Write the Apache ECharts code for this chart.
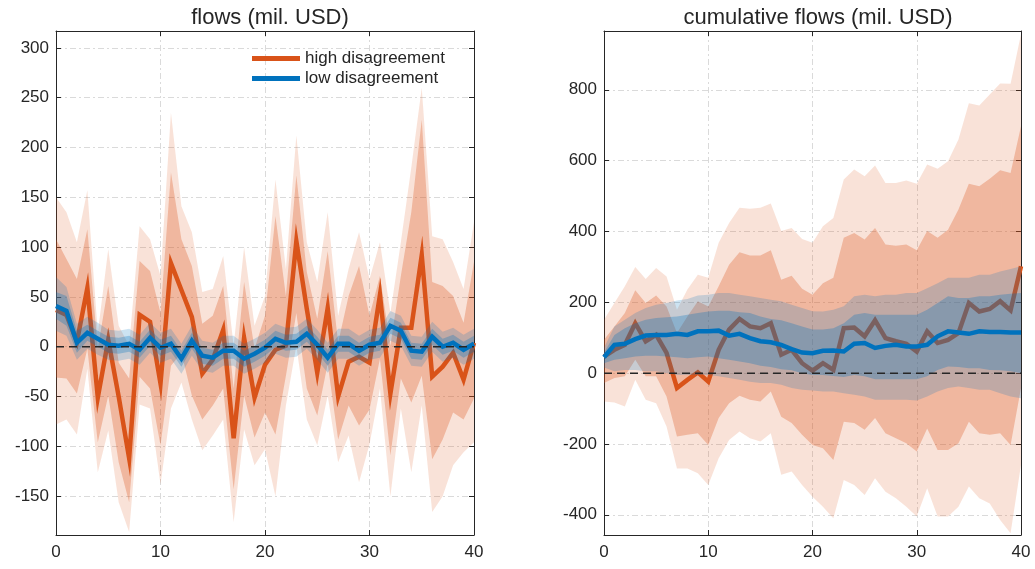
<!DOCTYPE html>
<html>
<head>
<meta charset="utf-8">
<script src="https://cdn.jsdelivr.net/npm/echarts@6.0.0/dist/echarts.min.js"></script>
<style>
html, body { margin: 0; padding: 0; background: #fff; }
#main { width: 1035px; height: 569px; }
</style>
</head>
<body>
<div id="main"></div>
<script>
// horizon (x axis)
var steps = [0,1,2,3,4,5,6,7,8,9,10,11,12,13,14,15,16,17,18,19,20,21,22,23,24,25,26,27,28,29,30,31,32,33,34,35,36,37,38,39,40];

// flows, high disagreement: median and bands
var flowHighMid   = [37,32,5,59,-51,7,-50,-112,32,25,-37,84,57,30,-27,-13,17,-92,9,-51,-18,-3,1,106,38,-26,39,-50,-15,-10,-16,52,-47,19,19,92,-30,-20,-6,-33,4];
var flowHighOutHi = [150,135,105,157,14,98,21,1,121,108,71,235,141,115,55,58,91,1,100,21,51,168,78,212,105,65,135,31,78,115,68,105,34,105,180,260,111,108,85,58,125];
var flowHighInHi  = [108,88,68,118,-2,61,-16,-32,86,76,34,175,108,81,23,31,61,-42,65,-2,31,131,51,172,75,28,96,4,51,81,31,71,1,71,135,228,65,61,51,24,85];
var flowHighInLo  = [-31,-32,-47,-2,-96,-49,-116,-156,-30,-42,-99,-19,-6,-49,-73,-59,-42,-143,-49,-91,-66,-88,-29,34,-42,-69,-17,-93,-59,-79,-63,-12,-109,-32,-56,-29,-113,-93,-66,-73,-52];
var flowHighOutLo = [-78,-73,-88,-22,-126,-84,-156,-186,-58,-62,-138,-62,-36,-73,-104,-89,-73,-176,-83,-119,-103,-150,-59,1,-73,-99,-49,-116,-89,-136,-98,-42,-150,-62,-126,-59,-166,-150,-119,-106,-96];

// flows, low disagreement
var flowLowMid   = [41,36,4,14,8,2,1,3,-3,9,-1,3,-12,6,-9,-11,-4,-4,-12,-7,-1,8,4,5,13,2,-11,3,3,-4,2,4,21,16,-4,-5,10,0,4,-3,3];
var flowLowOutHi = [70,60,23,30,24,17,16,18,12,24,14,18,3,21,6,4,11,11,3,8,14,23,19,20,28,17,4,18,18,11,17,19,36,31,11,10,25,15,19,12,18];
var flowLowInHi  = [55,51,16,22,16,10,9,11,5,17,7,11,-4,14,-1,-3,4,4,-4,1,7,16,12,13,21,10,-3,11,11,4,10,12,29,24,4,3,18,8,12,5,11];
var flowLowInLo  = [28,21,-6,6,0,-6,-7,-5,-11,1,-9,-5,-20,-2,-17,-19,-12,-12,-20,-15,-9,0,-4,-3,5,-6,-19,-5,-5,-12,-6,-4,13,8,-12,-13,2,-8,-4,-11,-5];
var flowLowOutLo = [16,11,-13,-2,-8,-13,-14,-12,-18,-6,-16,-12,-27,-9,-24,-26,-19,-19,-27,-22,-16,-7,-11,-10,-2,-13,-26,-12,-12,-19,-13,-11,6,1,-19,-20,-5,-15,-11,-18,-12];

// cumulative flows, high disagreement
var cumHighMid   = [47,66,80,141,90,108,57,-42,-19,2,-24,66,123,153,132,127,141,52,66,28,7,28,9,127,129,104,149,99,90,83,61,118,85,94,113,198,174,181,203,177,302];
var cumHighOutHi = [151,198,245,300,266,297,273,179,236,278,269,368,424,467,464,467,479,401,410,379,368,415,438,547,575,556,586,537,537,544,535,589,577,598,660,762,756,787,818,817,957];
var cumHighInHi  = [94,132,170,234,198,219,188,113,160,203,188,245,306,341,332,332,347,264,275,238,221,254,269,382,396,377,410,363,360,363,347,401,382,405,462,535,528,549,573,565,697];
var cumHighInLo  = [-28,-14,-9,38,-9,-9,-66,-179,-174,-170,-203,-127,-85,-64,-75,-80,-52,-123,-141,-174,-203,-212,-245,-137,-141,-160,-127,-170,-184,-198,-221,-156,-217,-217,-198,-137,-170,-174,-170,-203,-42];
var cumHighOutLo = [-80,-83,-94,-19,-75,-85,-151,-269,-269,-283,-316,-240,-189,-165,-184,-193,-170,-287,-278,-316,-349,-377,-410,-302,-316,-344,-297,-335,-353,-377,-405,-325,-405,-405,-377,-320,-353,-368,-415,-452,-259];

// cumulative flows, low disagreement
var cumLowMid   = [45,80,83,96,106,108,108,111,108,118,118,120,106,111,99,90,87,80,68,58,56,63,64,61,83,85,71,77,80,75,75,80,104,118,115,111,118,116,116,115,115];
var cumLowOutHi = [72,132,151,170,184,193,198,205,209,219,221,226,226,221,217,212,207,203,193,184,175,174,179,189,217,221,217,221,221,226,226,240,254,269,269,269,278,278,287,294,302];
var cumLowInHi  = [58,108,127,141,151,156,158,160,165,170,174,176,176,172,170,160,153,149,141,132,123,123,127,141,165,170,165,165,165,165,165,179,198,217,212,212,217,217,221,224,226];
var cumLowInLo  = [28,38,42,47,49,49,47,45,42,45,47,42,38,33,28,21,17,11,8,0,-5,-5,-8,-11,-5,-9,-17,-17,-17,-17,-17,-9,9,19,17,14,14,9,8,5,0];
var cumLowOutLo = [16,5,9,9,5,5,0,-5,-5,-5,-5,-9,-14,-19,-24,-28,-28,-33,-42,-47,-49,-52,-52,-57,-61,-66,-75,-75,-75,-75,-77,-66,-52,-42,-38,-42,-47,-47,-57,-66,-71];

var titles = ['flows (mil. USD)', 'cumulative flows (mil. USD)'];
var seriesNames = ['high disagreement', 'low disagreement'];

var FONT = 'Liberation Sans, Arial, Helvetica, sans-serif';
var INK = '#262626';
var ORANGE = '#D95319';
var BLUE = '#0072BD';

function pairs(v) {
    return steps.map(function (x, i) { return [x, v[i]]; });
}

// filled region between lo and hi, drawn as one polygon through the axis scales
function bandSeries(gi, lo, hi, color, z) {
    return {
        type: 'custom', xAxisIndex: gi * 2, yAxisIndex: gi * 2, z: z,
        data: [[0, 0]], silent: true, animation: false, clip: true,
        renderItem: function (params, api) {
            var pts = [];
            for (var i = 0; i < steps.length; i++) pts.push(api.coord([steps[i], hi[i]]));
            for (var j = steps.length - 1; j >= 0; j--) pts.push(api.coord([steps[j], lo[j]]));
            return { type: 'polygon', shape: { points: pts }, style: { fill: color, stroke: null } };
        }
    };
}

function midSeries(gi, name, v, color, z) {
    return {
        name: name, type: 'line', xAxisIndex: gi * 2, yAxisIndex: gi * 2, z: z,
        data: pairs(v), symbol: 'none', silent: true, animation: false,
        lineStyle: { color: color, width: 4.5, join: 'miter' },
        itemStyle: { color: color }
    };
}

function zeroSeries(gi) {
    return {
        type: 'line', xAxisIndex: gi * 2, yAxisIndex: gi * 2, z: 9,
        data: [[0, 0], [40, 0]], symbol: 'none', silent: true, animation: false,
        lineStyle: { color: INK, width: 1.5, type: [8, 5] }
    };
}

var gridLine = { show: true, lineStyle: { color: '#dadada', width: 1, type: [6, 3, 2, 3] } };

function xAxes(gi) {
    return [
        {
            gridIndex: gi, type: 'value', min: 0, max: 40, interval: 10, position: 'bottom',
            axisLine: { show: true, onZero: false, lineStyle: { color: INK, width: 1 } },
            axisTick: { show: true, inside: true, length: 5, lineStyle: { color: INK } },
            axisLabel: { color: INK, fontSize: 17, fontFamily: FONT, margin: 9 },
            splitLine: gridLine
        },
        {
            gridIndex: gi, type: 'value', min: 0, max: 40, interval: 10, position: 'top',
            axisLine: { show: true, onZero: false, lineStyle: { color: INK, width: 1 } },
            axisTick: { show: true, inside: true, length: 5, lineStyle: { color: INK } },
            axisLabel: { show: false }, splitLine: { show: false }
        }
    ];
}

function yAxes(gi, min, max, split, step) {
    return [
        {
            gridIndex: gi, type: 'value', min: min, max: max, splitNumber: split, position: 'left',
            axisLine: { show: true, onZero: false, lineStyle: { color: INK, width: 1 } },
            axisTick: { show: true, inside: true, length: 5, lineStyle: { color: INK } },
            axisLabel: {
                color: INK, fontSize: 17, fontFamily: FONT, margin: 7,
                showMinLabel: false, showMaxLabel: false,
                formatter: function (v) { return v % step === 0 ? String(v) : ''; }
            },
            splitLine: gridLine
        },
        {
            gridIndex: gi, type: 'value', min: min, max: max, splitNumber: split, position: 'right',
            axisLine: { show: true, onZero: false, lineStyle: { color: INK, width: 1 } },
            axisTick: { show: true, inside: true, length: 5, lineStyle: { color: INK } },
            axisLabel: { show: false }, splitLine: { show: false }
        }
    ];
}

// outer band first, inner band laid over it
var orangeOuter = 'rgba(217,83,25,0.17)';
var orangeInner = 'rgba(217,83,25,0.30)';
var blueOuter = 'rgba(0,114,189,0.20)';
var blueInner = 'rgba(0,114,189,0.29)';

// draw order: orange bands, orange median, blue bands, blue median, zero line
var series = [
    bandSeries(0, flowHighOutLo, flowHighOutHi, orangeOuter, 2),
    bandSeries(0, flowHighInLo, flowHighInHi, orangeInner, 3),
    midSeries(0, seriesNames[0], flowHighMid, ORANGE, 4),
    bandSeries(0, flowLowOutLo, flowLowOutHi, blueOuter, 5),
    bandSeries(0, flowLowInLo, flowLowInHi, blueInner, 6),
    midSeries(0, seriesNames[1], flowLowMid, BLUE, 7),
    zeroSeries(0),
    bandSeries(1, cumHighOutLo, cumHighOutHi, orangeOuter, 2),
    bandSeries(1, cumHighInLo, cumHighInHi, orangeInner, 3),
    midSeries(1, seriesNames[0], cumHighMid, ORANGE, 4),
    bandSeries(1, cumLowOutLo, cumLowOutHi, blueOuter, 5),
    bandSeries(1, cumLowInLo, cumLowInHi, blueInner, 6),
    midSeries(1, seriesNames[1], cumLowMid, BLUE, 7),
    zeroSeries(1)
];

var option = {
    backgroundColor: '#fff',
    animation: false,
    title: [
        { text: titles[0], left: 265, top: 2, textAlign: 'center',
          textStyle: { color: INK, fontSize: 22, fontWeight: 'normal', fontFamily: FONT } },
        { text: titles[1], left: 813, top: 2, textAlign: 'center',
          textStyle: { color: INK, fontSize: 22, fontWeight: 'normal', fontFamily: FONT } }
    ],
    legend: {
        data: seriesNames, orient: 'vertical', left: 252, top: 50, padding: 0, z: 10,
        icon: 'rect', itemWidth: 48, itemHeight: 5, itemGap: 3,
        selectedMode: false,
        textStyle: { color: INK, fontSize: 17, fontFamily: FONT }
    },
    grid: [
        { left: 56, top: 31, width: 418, height: 504 },
        { left: 604, top: 31, width: 417, height: 504 }
    ],
    xAxis: xAxes(0).concat(xAxes(1)),
    yAxis: yAxes(0, -189, 317, 10, 50).concat(yAxes(1, -457, 966, 7, 200)),
    series: series
};

var chart = echarts.init(document.getElementById('main'));
chart.setOption(option);
</script>
</body>
</html>
